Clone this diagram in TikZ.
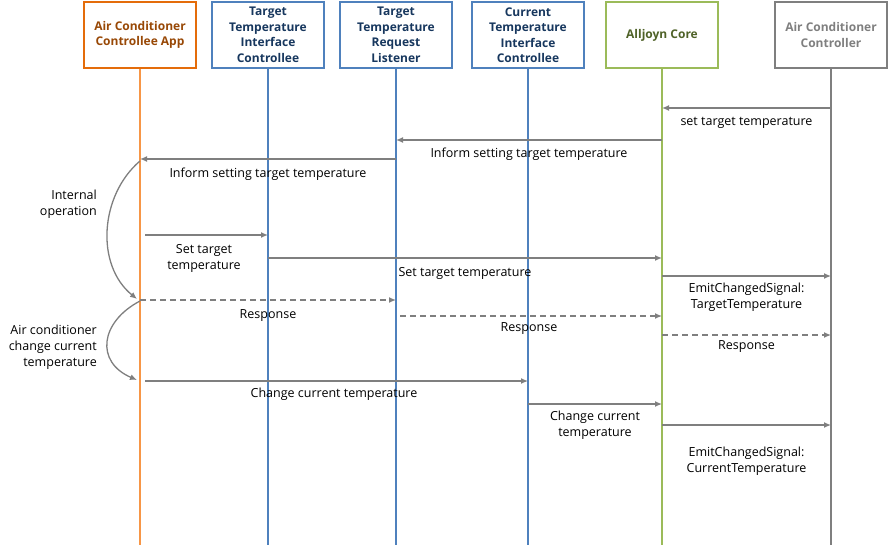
\documentclass[tikz,border=0pt]{standalone}
\usepackage{fontspec}
\setmainfont{Open Sans}
\usetikzlibrary{arrows.meta}
\definecolor{appBox}{RGB}{228,108,10}
\definecolor{appTxt}{RGB}{152,72,6}
\definecolor{appLine}{RGB}{247,150,70}
\definecolor{ifBox}{RGB}{79,129,189}
\definecolor{ifTxt}{RGB}{23,55,94}
\definecolor{coreBox}{RGB}{155,187,89}
\definecolor{coreTxt}{RGB}{79,98,40}
\definecolor{ctlBox}{RGB}{127,127,127}
\definecolor{msgGray}{RGB}{127,127,127}
\begin{document}
\begin{tikzpicture}[x=1pt,y=-1pt,
  head/.style={draw, line width=2.2pt, minimum width=112pt, minimum height=66pt,
    align=center, inner sep=1pt, font=\bfseries\fontsize{12}{15.5}\selectfont},
  life/.style={line width=1.3pt},
  msg/.style={draw=msgGray, line width=1.3pt, -{Latex[length=7pt,width=6pt]}},
  reply/.style={msg, dash pattern=on 6pt off 4pt},
  lbl/.style={font=\fontsize{12.5}{16}\selectfont, align=center, text=black, inner sep=1pt},
  side/.style={font=\fontsize{12.5}{16}\selectfont, align=right, text=black, inner sep=1pt},
  loopcurve/.style={draw=msgGray, line width=1.3pt, -{Latex[length=7pt,width=6pt]}}]
\useasboundingbox (0,0) rectangle (890,545);

% participants
\node[head, draw=appBox, text=appTxt] (app) at (140,35) {Air Conditioner\\Controllee App};
\node[head, draw=ifBox, text=ifTxt] (tif) at (268,35) {Target\\Temperature\\Interface\\Controllee};
\node[head, draw=ifBox, text=ifTxt] (trl) at (396,35) {Target\\Temperature\\Request\\Listener};
\node[head, draw=ifBox, text=ifTxt] (cif) at (528,35) {Current\\Temperature\\Interface\\Controllee};
\node[head, draw=coreBox, text=coreTxt] (core) at (662,35) {Alljoyn Core};
\node[head, draw=ctlBox, text=ctlBox] (ctl) at (831,35) {Air Conditioner\\Controller};

% lifelines
\draw[life, appLine] (app.south) -- (app.south |- 0,545);
\draw[life, ifBox] (tif.south) -- (tif.south |- 0,545);
\draw[life, ifBox] (trl.south) -- (trl.south |- 0,545);
\draw[life, ifBox] (cif.south) -- (cif.south |- 0,545);
\draw[life, coreBox] (core.south) -- (core.south |- 0,545);
\draw[life, ctlBox] (ctl.south) -- (ctl.south |- 0,545);

% messages
\draw[msg] (ctl.south |- 0,108) -- (core.south |- 0,108)
  node[lbl, midway, below=8pt] {set target temperature};
\draw[msg] (core.south |- 0,140) -- (trl.south |- 0,140)
  node[lbl, midway, below=6pt] {Inform setting target temperature};
\draw[msg] (trl.south |- 0,159) -- (app.south |- 0,159)
  node[lbl, midway, below=7pt] {Inform setting target temperature};
\draw[msg, shorten <=5pt] (app.south |- 0,235) -- (tif.south |- 0,235)
  node[lbl, midway, below=8pt] {Set target\\temperature};
\draw[msg] (tif.south |- 0,258) -- (core.south |- 0,258)
  node[lbl, midway, below=8pt] {Set target temperature};
\draw[msg] (core.south |- 0,276) -- (ctl.south |- 0,276)
  node[lbl, midway, below=5pt] {EmitChangedSignal:\\TargetTemperature};
\draw[reply] (app.south |- 0,300) -- (trl.south |- 0,300)
  node[lbl, midway, below=8pt] {Response};
\draw[reply, shorten <=4pt] (trl.south |- 0,316) -- (core.south |- 0,316)
  node[lbl, midway, below=5pt] {Response};
\draw[reply] (core.south |- 0,335) -- (ctl.south |- 0,335)
  node[lbl, midway, below=4pt] {Response};
\draw[msg, shorten <=5pt] (app.south |- 0,381) -- (cif.south |- 0,381)
  node[lbl, midway, below=5pt] {Change current temperature};
\draw[msg] (cif.south |- 0,404) -- (core.south |- 0,404)
  node[lbl, midway, below=5pt] {Change current\\temperature};
\draw[msg] (core.south |- 0,425) -- (ctl.south |- 0,425)
  node[lbl, midway, below=20pt] {EmitChangedSignal:\\CurrentTemperature};

% internal steps of the controllee app
\coordinate (io1) at (app.south |- 0,161);
\coordinate (io2) at ([xshift=-3pt]app.south |- 0,299);
\draw[loopcurve] (io1) .. controls (100,195) and (95,265) .. (io2);
\node[side, anchor=east] (iolbl) at (98,204) {Internal\\operation};

\coordinate (cc1) at (app.south |- 0,301);
\coordinate (cc2) at ([xshift=-3pt]app.south |- 0,380);
\draw[loopcurve] (cc1) .. controls (100,322) and (95,362) .. (cc2);
\node[side, anchor=east] (cclbl) at (98,347) {Air conditioner\\change current\\temperature};
\end{tikzpicture}
\end{document}
